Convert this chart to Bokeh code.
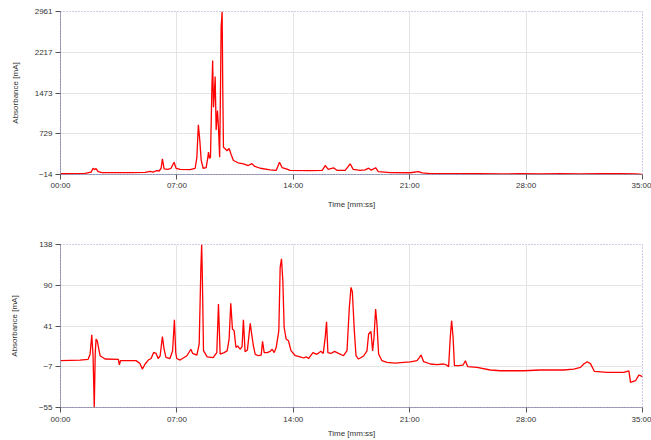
from bokeh.plotting import figure
from bokeh.layouts import column
from bokeh.models import Range1d, FixedTicker
from bokeh.embed import file_html
from bokeh.resources import INLINE

# ---- data (minutes, mA) ----
time_top = [0, 1.47, 1.84, 1.96, 2.05, 2.14, 2.26, 2.50, 4.18, 5.09, 5.39, 5.57, 5.75, 5.93,
            6.05, 6.13, 6.23, 6.47, 6.65, 6.83, 6.95, 7.19, 7.79, 8.10, 8.20, 8.29, 8.38,
            8.46, 8.58, 8.76, 8.86, 8.90, 8.96, 9.02, 9.10, 9.15, 9.20, 9.26, 9.30, 9.36,
            9.44, 9.50, 9.57, 9.62, 9.66, 9.72, 9.76, 9.80,
            9.90, 10.02, 10.14, 10.26, 10.40, 10.68, 11.00, 11.29, 11.51, 11.65, 12.01,
            12.61, 12.97, 13.17, 13.33, 13.57, 13.81, 15.02, 15.74, 15.92, 16.10, 16.42,
            16.64, 17.12, 17.42, 17.60, 18.02, 18.32, 18.53, 18.69, 18.95, 19.11, 19.83,
            21.03, 21.52, 21.76, 22.24, 23.44, 25.25, 26.45, 27.66, 28.86, 30.06, 31.27,
            32.47, 33.67, 34.57, 35.0]
abs_top = [0, 5, 30, 100, 75, 95, 40, 20, 20, 25, 45, 30, 55, 50,
           100, 273, 90, 80, 100, 210, 100, 80, 75, 100, 300, 893, 600,
           250, 100, 110, 300, 393, 280, 300, 1500, 2066, 1214, 1500, 1774, 800,
           1154, 849, 302, 1500, 2674, 2961, 1500, 484,
           455, 420, 460, 350, 241, 200, 181, 150, 185, 140, 100,
           70, 60, 210, 110, 90, 60, 55, 60, 150, 80, 108,
           60, 60, 181, 80, 60, 70, 101, 65, 110, 40, 20,
           18, 40, 15, 2, 3, 0, -3, 0, -5, 2, -2,
           2, 0, -5, -14]

time_bottom = [0, 1.17, 1.66, 1.78, 1.88, 1.96, 2.03, 2.09, 2.14, 2.21, 2.38, 2.68, 3.48, 3.54,
               3.61, 4.54, 4.78, 4.92, 5.09, 5.28, 5.45, 5.60, 5.75, 5.87, 5.99, 6.13, 6.23,
               6.34, 6.58, 6.74, 6.85, 6.93, 6.99, 7.19, 7.60, 7.84, 7.95, 8.20, 8.34, 8.44,
               8.49, 8.53, 8.60, 8.82, 9.18, 9.40, 9.50, 9.60, 9.84, 10.02, 10.14, 10.24,
               10.34, 10.44, 10.55, 10.65, 10.80, 10.92, 11.00, 11.10, 11.24, 11.41, 11.51,
               11.60, 11.71, 11.91, 12.07, 12.15, 12.25, 12.43, 12.61, 12.73, 12.85, 12.97,
               13.13, 13.21, 13.29, 13.37, 13.45, 13.57, 13.71, 13.86, 14.12, 14.42, 14.61,
               14.78, 14.92, 15.18, 15.42, 15.66, 15.80, 15.92, 16.00, 16.08, 16.26, 16.48,
               16.72, 17.02, 17.23, 17.37, 17.47, 17.55, 17.67, 17.77, 17.92, 18.23, 18.43,
               18.53, 18.67, 18.77, 18.85, 18.95, 19.03, 19.13, 19.33, 19.63, 20.13, 20.63,
               21.04, 21.44, 21.58, 21.68, 21.84, 22.24, 22.64, 23.04, 23.20, 23.34, 23.44,
               23.52, 23.61, 23.69, 23.94, 24.21, 24.35, 24.49, 25.05, 25.85, 26.45, 27.86,
               28.86, 30.26, 30.87, 31.27, 31.47, 31.67, 31.87, 32.11, 32.88, 33.88, 34.18,
               34.28, 34.58, 34.78, 34.91, 35.0]
abs_bottom = [0.5, 1, 2, 8, 31, 5, -55, 10, 26, 24, 6.3, 2.4, 2, -4.4,
              0.5, 0.5, -3, -9.5, -3.5, 1.2, 3, 10.2, 9, 3, 6, 28.9, 14,
              4.3, 3, 12, 49, 10, 3, 1.2, 6.3, 14, 9, 7, 20, 109,
              138, 100, 12.3, 5, 4, 10, 67.6, 8.3, 10, 12, 26, 68.4,
              38, 36, 16, 18, 14, 17, 49, 11, 13, 44.6, 30,
              18, 8, 6.3, 7, 23.3, 10, 10, 11.5, 14, 10, 16,
              36, 111, 121, 95, 40, 26, 24, 12.3, 6.3, 5, 3.6,
              5, 3, 10, 8, 11.5, 9, 28, 46.6, 10, 9, 11.4,
              9, 6.3, 12.3, 63.6, 87.3, 82, 36, 6.3, 2.4, 6, 12,
              32, 35, 12, 27, 61.7, 44, 8.3, 0.4, -1.5, -2.5, -1.6,
              -1, 0.4, 4, 7.2, -0.8, -3.5, -4.3, -3.5, -4.5, -6.7, 28,
              47.8, 28, -5.5, -5.5, -4.7, 0.4, -6.7, -7.5, -10.6, -11.5, -11.5,
              -10.6, -10.6, -9.5, -7.5, -3.5, -0.8, -3, -12.3, -13.5, -13.5, -11.5,
              -25.3, -23.3, -16.6, -17.5, -18.6]

x_ticks = [0, 7, 14, 21, 28, 35]
x_tick_labels = ["00:00", "07:00", "14:00", "21:00", "28:00", "35:00"]
y_ticks_top = [-14, 729, 1473, 2217, 2961]
y_ticks_bottom = [-55, -7, 41, 90, 138]

FONT = "Liberation Sans"


def make_fig(h, top_border, bottom_border, yr, yticks, xs, ys, title_standoff, label_standoff, ylab_standoff):
    p = figure(width=651, height=h, output_backend="svg", toolbar_location=None,
               x_range=Range1d(0, 35), y_range=Range1d(*yr),
               min_border_left=60, min_border_right=9,
               min_border_top=top_border, min_border_bottom=bottom_border,
               background_fill_color="white", border_fill_color="white")
    p.line(xs, ys, line_color="#ff0000", line_width=1.3)
    p.outline_line_color = "#9a9ad6"
    p.outline_line_dash = "1 2"
    p.outline_line_width = 1

    p.xaxis.ticker = FixedTicker(ticks=x_ticks)
    p.xaxis.major_label_overrides = {t: l for t, l in zip(x_ticks, x_tick_labels)}
    p.yaxis.ticker = FixedTicker(ticks=yticks)
    p.xgrid.ticker = FixedTicker(ticks=x_ticks)
    p.ygrid.ticker = FixedTicker(ticks=yticks)
    p.grid.grid_line_color = "#e4e4e4"
    p.grid.grid_line_width = 1

    for ax in (p.xaxis[0], p.yaxis[0]):
        ax.axis_line_color = "#5a5a80"
        ax.axis_line_dash = "1 1"
        ax.major_tick_line_color = "#555555"
        ax.major_tick_out = 5
        ax.major_tick_in = 0
        ax.minor_tick_out = 0
        ax.minor_tick_in = 0
        ax.major_label_text_font = FONT
        ax.major_label_text_font_size = "8px"
        ax.major_label_text_color = "#333333"
        ax.axis_label_text_font = FONT
        ax.axis_label_text_font_size = "8px"
        ax.axis_label_text_font_style = "normal"
        ax.axis_label_text_color = "#333333"

    p.xaxis.axis_label = "Time [mm:ss]"
    p.xaxis.major_label_standoff = label_standoff
    p.xaxis.axis_label_standoff = title_standoff
    p.yaxis.axis_label = "Absorbance [mA]"
    p.yaxis.major_label_standoff = 3
    p.yaxis.axis_label_standoff = ylab_standoff
    return p


p1 = make_fig(230, 11, 56, (-14, 2961), y_ticks_top, time_top, abs_top, 7, 1, 12)
p2 = make_fig(210, 14, 33, (-55, 138), y_ticks_bottom, time_bottom, abs_bottom, 2, 2, 17)

layout = column(p1, p2, spacing=0)
open("out.html", "w").write(file_html(layout, INLINE))
